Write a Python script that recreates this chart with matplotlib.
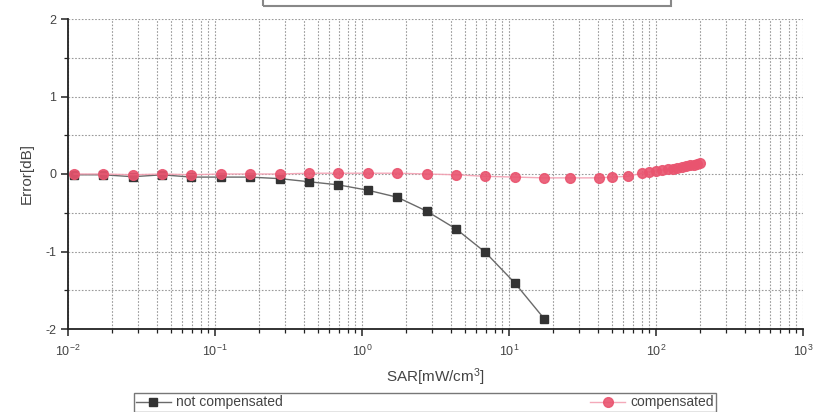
import matplotlib
matplotlib.use('Agg')
import matplotlib.pyplot as plt
from matplotlib.patches import Rectangle
from matplotlib.ticker import LogLocator, MultipleLocator, NullFormatter

plt.rcParams['font.family'] = ['Liberation Sans', 'DejaVu Sans']
plt.rcParams['mathtext.fontset'] = 'custom'
plt.rcParams['mathtext.rm'] = 'Liberation Sans'
plt.rcParams['mathtext.it'] = 'Liberation Sans'
plt.rcParams['axes.unicode_minus'] = False

# values (SAR in mW/cm^3, error in dB)
sar_nc = [0.011, 0.0174, 0.0276, 0.0437, 0.069, 0.11, 0.174, 0.276, 0.437,
          0.69, 1.1, 1.74, 2.76, 4.37, 6.9, 11.0, 17.4]
err_nc = [-0.01, -0.01, -0.035, -0.01, -0.04, -0.04, -0.04, -0.06, -0.10,
          -0.14, -0.21, -0.30, -0.48, -0.71, -1.01, -1.41, -1.87]

sar_c = [0.011, 0.0174, 0.0276, 0.0437, 0.069, 0.11, 0.174, 0.276, 0.437,
         0.69, 1.1, 1.74, 2.76, 4.37, 6.9, 11.0, 17.4, 26.0, 41.0, 50.0,
         64.5, 80.0, 90.0, 100.0, 110.0, 120.0, 130.0, 140.0, 150.0, 160.0,
         170.0, 180.0, 190.0, 200.0]
err_c = [0.0, 0.0, -0.01, 0.0, -0.01, 0.0, 0.0, 0.0, 0.01,
         0.01, 0.01, 0.01, 0.0, -0.01, -0.03, -0.04, -0.05, -0.05, -0.05, -0.04,
         -0.03, 0.01, 0.03, 0.04, 0.05, 0.06, 0.07, 0.08, 0.09, 0.10,
         0.11, 0.12, 0.13, 0.14]

fig = plt.figure(figsize=(8.15, 4.12), dpi=100)
ax = fig.add_axes([68/815, 1-329/412, (803-68)/815, (329-19)/412])

l1, = ax.plot(sar_nc, err_nc, '-s', color='#6a6a6a', lw=1.0, markersize=6,
              markerfacecolor='#333333', markeredgecolor='#333333', zorder=3)
l2, = ax.plot(sar_c, err_c, '-o', color='#f3a0b2', lw=1.0, markersize=7,
              markerfacecolor='#e9546f', markeredgecolor='#e9546f', alpha=0.9, zorder=4)

ax.set_xscale('log')
ax.set_xlim(1e-2, 1e3)
ax.set_ylim(-2, 2)
ax.xaxis.set_major_locator(LogLocator(base=10, numticks=10))
ax.xaxis.set_minor_locator(LogLocator(base=10, subs=range(2, 10), numticks=20))
ax.xaxis.set_minor_formatter(NullFormatter())
ax.yaxis.set_major_locator(MultipleLocator(1))
ax.yaxis.set_minor_locator(MultipleLocator(0.5))

ax.grid(True, which='both', axis='x', linestyle=(0, (1.5, 1.5)), color='#9a9a9a', lw=0.8)
ax.grid(True, which='both', axis='y', linestyle=(0, (1.5, 1.5)), color='#9a9a9a', lw=0.8)

for s in ('top', 'right'):
    ax.spines[s].set_visible(False)
for s in ('left', 'bottom'):
    ax.spines[s].set_linewidth(1.3)
    ax.spines[s].set_color('#222222')

ax.tick_params(which='major', direction='out', length=5, width=1.1, colors='#222222',
               labelsize=9, labelcolor='#444444')
ax.tick_params(which='minor', direction='out', length=3, width=0.9, colors='#222222')
ax.tick_params(axis='x', pad=6)

ax.set_xlabel('SAR[mW/cm$^3$]', fontsize=11, color='#444444', labelpad=5)
ax.set_ylabel('Error[dB]', fontsize=11, color='#444444', labelpad=8)

# empty box cut off at the top edge
fig.patches.append(Rectangle((263/815, 1-6/412), (671-263)/815, 20/412,
                             transform=fig.transFigure, fill=False,
                             edgecolor='#888888', lw=1.5))

leg = fig.legend([l1, l2], ['not compensated', 'compensated'], ncol=2,
                 loc='lower left', bbox_to_anchor=(134/815, 0.5/412, (716-134)/815, 19/412),
                 mode='expand', fontsize=10, frameon=True, fancybox=False,
                 handlelength=2.5, borderpad=0.15, handletextpad=0.4,
                 columnspacing=1.0, borderaxespad=0)
leg.get_frame().set_edgecolor('#555555')
leg.get_frame().set_linewidth(1.0)
for t in leg.get_texts():
    t.set_color('#444444')

fig.savefig('out.png', dpi=100)
